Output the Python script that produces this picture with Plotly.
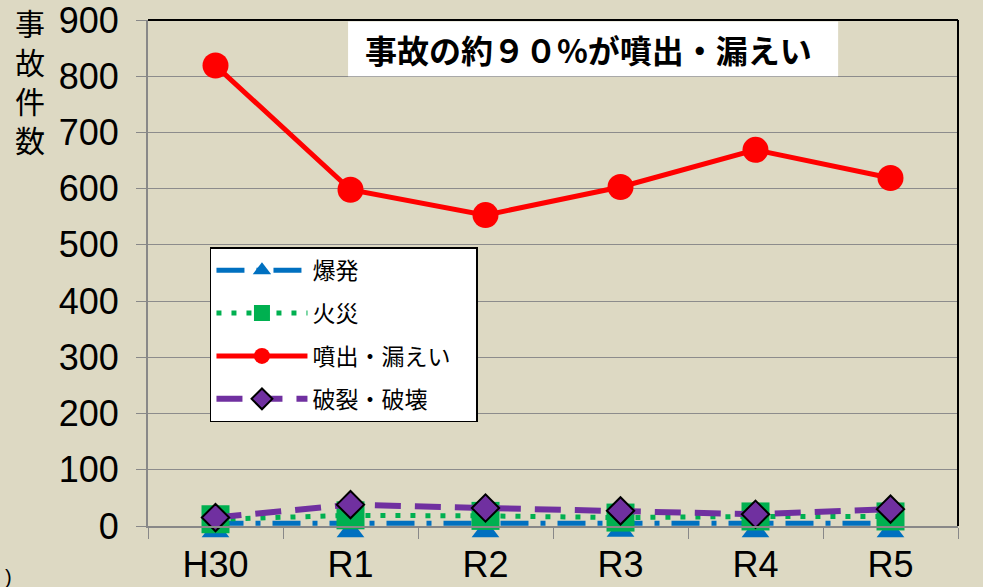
import plotly.graph_objects as go

years = ["H30", "R1", "R2", "R3", "R4", "R5"]
explosion = [5, 5, 5, 6, 5, 5]
fire = [12, 19, 18, 15, 17, 17]
leak = [819, 598, 553, 603, 669, 619]
rupture = [15, 38, 32, 27, 21, 30]
y_ticks = [0, 100, 200, 300, 400, 500, 600, 700, 800, 900]
y_ticktext = [f"{v}\u00a0" for v in y_ticks]

BG = "#DDD9C3"
NARROW = "Liberation Sans Narrow, Arial Narrow, sans-serif"
JP = "Noto Sans CJK JP, sans-serif"

BLUE_LINE = dict(color="#0070C0", width=5, dash="28px,12px,5px,12px")

fig = go.Figure()
fig.add_trace(go.Scatter(x=years, y=explosion, name="爆発", mode="lines+markers",
                         legendgroup="a", showlegend=False,
                         line=BLUE_LINE,
                         marker=dict(symbol="triangle-up", size=24, color="#0070C0",
                                     standoff=8),
                         cliponaxis=False))
# legend entry for 爆発 (same style, marker centred on the line)
fig.add_trace(go.Scatter(x=[None], y=[None], name="爆発", mode="lines+markers",
                         legendgroup="a", showlegend=True,
                         line=BLUE_LINE,
                         marker=dict(symbol="triangle-up", size=20, color="#0070C0")))
fig.add_trace(go.Scatter(x=years, y=fire, name="火災", mode="lines+markers",
                         legendgroup="b",
                         line=dict(color="#00B050", width=5, dash="5px,10px"),
                         marker=dict(symbol="square", size=28, color="#00B050"),
                         cliponaxis=False))
fig.add_trace(go.Scatter(x=years, y=leak, name="噴出・漏えい\u00a0\u00a0\u00a0\u00a0",
                         mode="lines+markers", legendgroup="c",
                         line=dict(color="#FF0000", width=5),
                         marker=dict(symbol="circle", size=26, color="#FF0000"),
                         cliponaxis=False))
fig.add_trace(go.Scatter(x=years, y=rupture, name="破裂・破壊", mode="lines+markers",
                         legendgroup="d",
                         line=dict(color="#7030A0", width=6, dash="26px,14px"),
                         marker=dict(symbol="diamond", size=21, color="#7030A0",
                                     line=dict(color="black", width=2)),
                         cliponaxis=False))

fig.update_layout(
    width=983, height=587,
    margin=dict(l=148, r=25, t=20, b=61),
    paper_bgcolor=BG, plot_bgcolor=BG,
    showlegend=True,
    legend=dict(x=0.0765, y=0.551, xanchor="left", yanchor="top",
                bgcolor="white", bordercolor="black", borderwidth=1.5,
                font=dict(family=JP, size=23, color="black"),
                itemwidth=91, tracegroupgap=10, traceorder="grouped"),
    xaxis=dict(type="category", range=[-0.5, 5.5], showgrid=False, automargin=False,
               tickson="boundaries", ticks="outside", ticklen=11, tickcolor="#888888",
               showline=True, linecolor="#888888", linewidth=2, ticklabelstandoff=6,
               tickfont=dict(family=NARROW, size=36, color="black")),
    yaxis=dict(range=[0, 900], tickvals=y_ticks, ticktext=y_ticktext, showgrid=True,
               gridcolor="#8C8C8C", gridwidth=1, zeroline=False, ticks="outside",
               ticklen=10, automargin=False, ticklabeloverflow="allow",
               tickcolor="#888888", showline=True, linecolor="#888888", linewidth=2,
               tickfont=dict(family=NARROW, size=36, color="black")),
    shapes=[
        dict(type="line", xref="paper", yref="paper", x0=0, x1=1, y0=1, y1=1,
             line=dict(color="black", width=2)),
        dict(type="line", xref="paper", yref="paper", x0=1, x1=1, y0=0, y1=1,
             line=dict(color="black", width=2)),
        dict(type="rect", xref="paper", yref="paper", x0=0.247, x1=0.852, y0=0.889, y1=0.997,
             fillcolor="white", line=dict(width=0)),
    ],
    annotations=[
        dict(text="<b>事故の約９０%が噴出・漏えい</b>", xref="paper", yref="paper",
             x=0.544, y=0.943, xanchor="center", yanchor="middle", showarrow=False,
             font=dict(family=JP, size=32, color="black")),
        dict(text="事<br>故<br>件<br>数", xref="paper", yref="paper", x=-0.146, y=1.043,
             xanchor="center", yanchor="top", showarrow=False, align="center",
             font=dict(family=JP, size=30, color="black")),
        dict(text=")", xref="paper", yref="paper", x=-0.172, y=-0.1,
             xanchor="center", yanchor="middle", showarrow=False,
             font=dict(family=NARROW, size=20, color="black")),
    ],
)

fig.write_html(
    "out.html",
    config={"displayModeBar": False},
    post_script="document.body.style.margin='0';document.body.style.background='#DDD9C3';",
)
